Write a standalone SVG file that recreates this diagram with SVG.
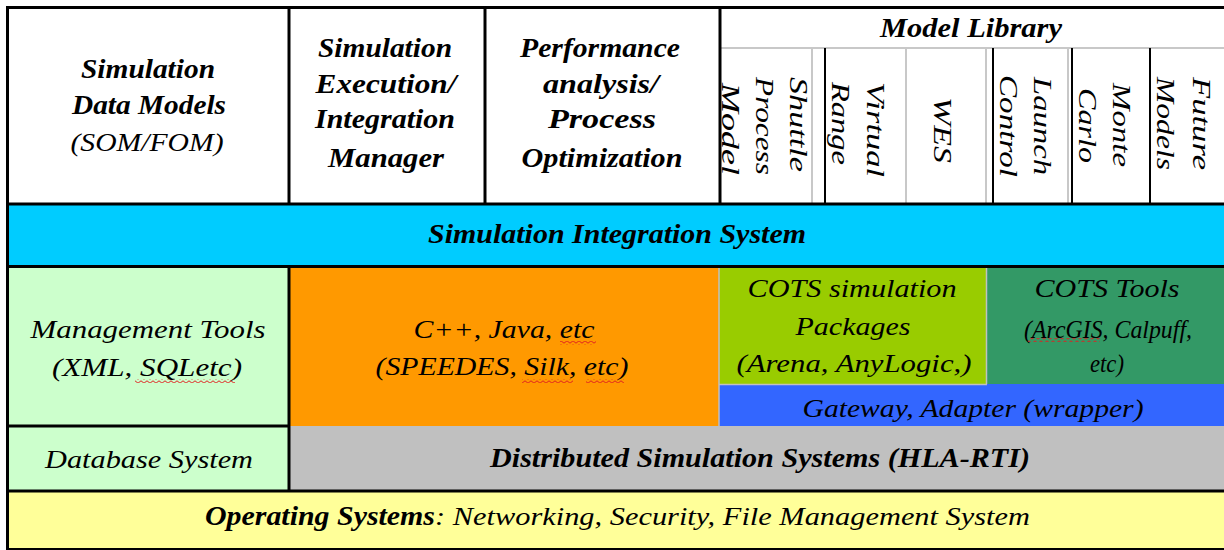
<svg xmlns="http://www.w3.org/2000/svg" width="1224" height="550" viewBox="0 0 1224 550">
  <style>
    text { font-family: "Liberation Serif", "Times New Roman", serif; font-style: italic; fill: #000; }
    .h { font-size: 27px; font-weight: bold; text-anchor: middle; }
    .t { font-size: 26px; text-anchor: middle; }
    .v { font-size: 25px; text-anchor: middle; }
    .blk { stroke: #000; stroke-width: 3; fill: none; }
    .thin { stroke: #000; stroke-width: 2; fill: none; }
    .gry { stroke: #c8c8c8; stroke-width: 2; fill: none; }
    .edge { stroke: #c0c0c0; stroke-width: 1.5; fill: none; }
  </style>
  <defs>
    <pattern id="squiggle" width="6" height="4" patternUnits="userSpaceOnUse">
      <path d="M0,3.2 L3,0.8 L6,3.2" stroke="#e02020" stroke-width="1" fill="none"/>
    </pattern>
  </defs>

  <rect x="0" y="0" width="1224" height="550" fill="#fff"/>

  <!-- header cells -->
  <g id="sim-data-models">
    <rect x="8" y="8" width="281" height="196" fill="#fff"/>
    <text class="h" x="148" y="78" textLength="134" lengthAdjust="spacingAndGlyphs">Simulation</text>
    <text class="h" x="149" y="114" textLength="154" lengthAdjust="spacingAndGlyphs">Data Models</text>
    <text class="t" x="147" y="151" textLength="153" lengthAdjust="spacingAndGlyphs">(SOM/FOM)</text>
  </g>

  <g id="execution-manager">
    <rect x="289" y="8" width="196" height="196" fill="#fff"/>
    <text class="h" x="385" y="57" textLength="134" lengthAdjust="spacingAndGlyphs">Simulation</text>
    <text class="h" x="386" y="93" textLength="141" lengthAdjust="spacingAndGlyphs">Execution/</text>
    <text class="h" x="385" y="128" textLength="140" lengthAdjust="spacingAndGlyphs">Integration</text>
    <text class="h" x="386" y="167" textLength="116" lengthAdjust="spacingAndGlyphs">Manager</text>
  </g>

  <g id="performance-analysis">
    <rect x="485" y="8" width="235" height="196" fill="#fff"/>
    <text class="h" x="600" y="57" textLength="160" lengthAdjust="spacingAndGlyphs">Performance</text>
    <text class="h" x="601" y="93" textLength="116" lengthAdjust="spacingAndGlyphs">analysis/</text>
    <text class="h" x="602" y="128" textLength="108" lengthAdjust="spacingAndGlyphs">Process</text>
    <text class="h" x="602" y="167" textLength="161" lengthAdjust="spacingAndGlyphs">Optimization</text>
  </g>

  <g id="model-library">
    <rect x="720" y="8" width="504" height="196" fill="#fff"/>
    <text class="h" x="971" y="37" textLength="182" lengthAdjust="spacingAndGlyphs">Model Library</text>
    <!-- vertical labels, read top to bottom -->
    <text class="v" transform="translate(790,124.5) rotate(90)" textLength="95" lengthAdjust="spacingAndGlyphs">Shuttle</text>
    <text class="v" transform="translate(756,126) rotate(90)" textLength="98" lengthAdjust="spacingAndGlyphs">Process</text>
    <text class="v" transform="translate(722,129) rotate(90)" textLength="92" lengthAdjust="spacingAndGlyphs">Model</text>
    <text class="v" transform="translate(867,129.5) rotate(90)" textLength="95" lengthAdjust="spacingAndGlyphs">Virtual</text>
    <text class="v" transform="translate(832,123.5) rotate(90)" textLength="83" lengthAdjust="spacingAndGlyphs">Range</text>
    <text class="v" transform="translate(934,130) rotate(90)" textLength="66" lengthAdjust="spacingAndGlyphs">WES</text>
    <text class="v" transform="translate(1034,126) rotate(90)" textLength="98" lengthAdjust="spacingAndGlyphs">Launch</text>
    <text class="v" transform="translate(1000,126) rotate(90)" textLength="102" lengthAdjust="spacingAndGlyphs">Control</text>
    <text class="v" transform="translate(1113,125) rotate(90)" textLength="84" lengthAdjust="spacingAndGlyphs">Monte</text>
    <text class="v" transform="translate(1079,125.5) rotate(90)" textLength="75" lengthAdjust="spacingAndGlyphs">Carlo</text>
    <text class="v" transform="translate(1193,123.5) rotate(90)" textLength="93" lengthAdjust="spacingAndGlyphs">Future</text>
    <text class="v" transform="translate(1157,123.5) rotate(90)" textLength="93" lengthAdjust="spacingAndGlyphs">Models</text>
  </g>

  <!-- integration band -->
  <g id="integration-system">
    <rect x="8" y="204" width="1216" height="62" fill="#00ccff"/>
    <text class="h" x="617" y="243" textLength="378" lengthAdjust="spacingAndGlyphs">Simulation Integration System</text>
  </g>

  <!-- middle tier -->
  <g id="management-tools">
    <rect x="8" y="266" width="281" height="160" fill="#ccffcc"/>
    <text class="t" x="148" y="338" textLength="235" lengthAdjust="spacingAndGlyphs">Management Tools</text>
    <text class="t" x="147" y="376" textLength="190" lengthAdjust="spacingAndGlyphs">(XML, SQLetc)</text>
    <rect x="135" y="379" width="100" height="4" fill="url(#squiggle)"/>
  </g>

  <g id="languages">
    <rect x="289" y="266" width="430" height="160" fill="#ff9900"/>
    <text class="t" x="504" y="338" textLength="181" lengthAdjust="spacingAndGlyphs">C++, Java, etc</text>
    <text class="t" x="502" y="375" textLength="253" lengthAdjust="spacingAndGlyphs">(SPEEDES, Silk, etc)</text>
    <rect x="560" y="341" width="36" height="4" fill="url(#squiggle)"/>
    <rect x="522" y="379" width="51" height="4" fill="url(#squiggle)"/>
    <rect x="586" y="379" width="38" height="4" fill="url(#squiggle)"/>
  </g>

  <g id="cots-packages">
    <rect x="719" y="266" width="268" height="118" fill="#99cc00"/>
    <text class="t" x="852" y="297" textLength="209" lengthAdjust="spacingAndGlyphs">COTS simulation</text>
    <text class="t" x="853" y="335" textLength="115" lengthAdjust="spacingAndGlyphs">Packages</text>
    <text class="t" x="854" y="372" textLength="235" lengthAdjust="spacingAndGlyphs">(Arena, AnyLogic,)</text>
  </g>

  <g id="cots-tools">
    <rect x="987" y="266" width="237" height="118" fill="#339966"/>
    <text class="t" x="1107" y="297" textLength="145" lengthAdjust="spacingAndGlyphs">COTS Tools</text>
    <text class="t" x="1108" y="338" textLength="168" lengthAdjust="spacingAndGlyphs">(ArcGIS, Calpuff,</text>
    <text class="t" x="1107" y="372" textLength="34" lengthAdjust="spacingAndGlyphs">etc)</text>
    <rect x="1028" y="338" width="72" height="4" fill="url(#squiggle)"/>
  </g>

  <g id="gateway-adapter">
    <rect x="719" y="384" width="505" height="42" fill="#3366ff"/>
    <text class="t" x="973" y="417" textLength="341" lengthAdjust="spacingAndGlyphs">Gateway, Adapter (wrapper)</text>
  </g>

  <g id="database-system">
    <rect x="8" y="426" width="281" height="65" fill="#ccffcc"/>
    <text class="t" x="149" y="468" textLength="208" lengthAdjust="spacingAndGlyphs">Database System</text>
  </g>

  <g id="distributed-simulation">
    <rect x="289" y="426" width="935" height="65" fill="#c0c0c0"/>
    <text class="h" x="760" y="467" textLength="540" lengthAdjust="spacingAndGlyphs">Distributed Simulation Systems (HLA-RTI)</text>
  </g>

  <g id="operating-systems">
    <rect x="8" y="491" width="1216" height="58" fill="#ffff99"/>
    <text class="h" x="205" y="525" style="text-anchor:start" textLength="230" lengthAdjust="spacingAndGlyphs">Operating Systems</text>
    <text class="t" x="435" y="525" style="text-anchor:start" textLength="595" lengthAdjust="spacingAndGlyphs">: Networking, Security, File Management System</text>
  </g>

  <!-- grid rules -->
  <g id="grid-lines">
    <line class="gry" x1="720" y1="48" x2="1224" y2="48"/>
    <line class="gry" x1="812" y1="48" x2="812" y2="204"/>
    <line class="gry" x1="906" y1="48" x2="906" y2="204"/>
    <line class="gry" x1="986" y1="48" x2="986" y2="204"/>
    <line class="gry" x1="1068" y1="48" x2="1068" y2="204"/>
    <line class="thin" x1="825" y1="48" x2="825" y2="204"/>
    <line class="thin" x1="993" y1="48" x2="993" y2="204"/>
    <line class="thin" x1="1072" y1="48" x2="1072" y2="204"/>
    <line class="thin" x1="1150" y1="48" x2="1150" y2="204"/>

    <line class="edge" x1="719" y1="266" x2="719" y2="426"/>
    <line class="edge" x1="719" y1="384.5" x2="987" y2="384.5"/>
    <line class="edge" x1="986.5" y1="266" x2="986.5" y2="384"/>

    <line class="blk" x1="6" y1="7.5" x2="1224" y2="7.5"/>
    <line class="blk" x1="7.5" y1="6" x2="7.5" y2="550"/>
    <line class="blk" x1="6" y1="204" x2="1224" y2="204"/>
    <line class="blk" x1="6" y1="266.5" x2="1224" y2="266.5"/>
    <line class="blk" x1="6" y1="491" x2="1224" y2="491"/>
    <line class="thin" x1="6" y1="549" x2="1224" y2="549"/>
    <line class="blk" x1="6" y1="426" x2="289" y2="426"/>
    <line class="blk" x1="289" y1="6" x2="289" y2="204"/>
    <line class="blk" x1="289" y1="266" x2="289" y2="491"/>
    <line class="blk" x1="485" y1="6" x2="485" y2="204"/>
    <line class="blk" x1="720" y1="6" x2="720" y2="204"/>
  </g>
</svg>
